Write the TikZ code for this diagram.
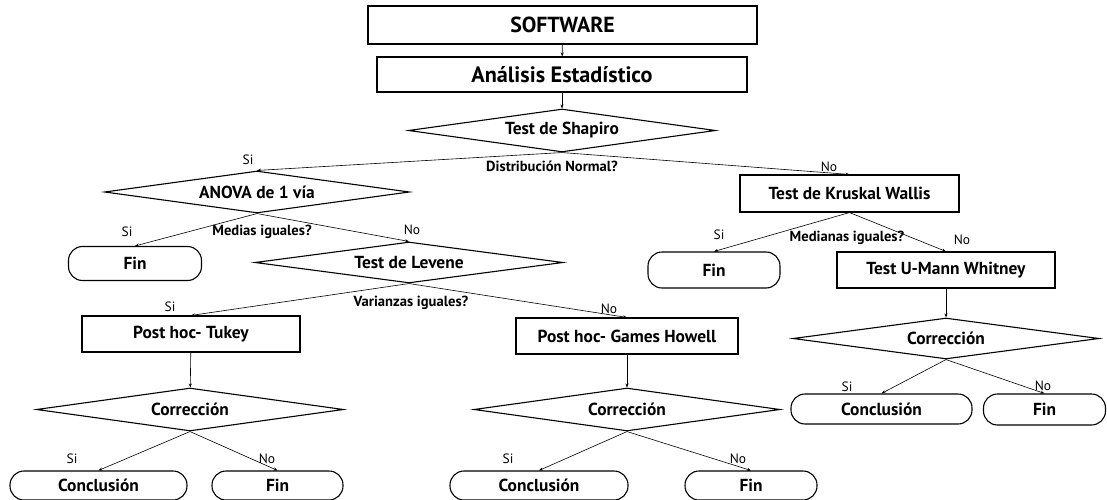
\documentclass[tikz,border=0pt]{standalone}
\usepackage{fontspec}
\setmainfont{PT Sans}
\usetikzlibrary{shapes.geometric,arrows.meta}
\tikzset{
  procbox/.style={draw=black, line width=1.1pt, rectangle, inner sep=0pt, font=\bfseries\fontsize{17.4}{19}\selectfont},
  decbox/.style={draw=black, line width=1.1pt, diamond, shape aspect=7, inner sep=0pt, font=\bfseries\fontsize{17.4}{19}\selectfont},
  termbox/.style={draw=black, line width=1.1pt, rectangle, rounded corners=14pt, inner sep=0pt, font=\bfseries\fontsize{17.4}{19}\selectfont},
  conn/.style={draw=black, line width=0.6pt, -{Stealth[length=4pt,width=3pt]}},
  qlabel/.style={inner sep=0pt, font=\bfseries\fontsize{14.6}{16}\selectfont},
  yn/.style={inner sep=0pt, font=\fontsize{13.5}{15}\selectfont}
}
\begin{document}
\begin{tikzpicture}[x=1pt,y=-1pt]
\useasboundingbox (0,0) rectangle (1107,500);
% nodes
\node[procbox, minimum width=389pt, minimum height=38pt, font=\bfseries\fontsize{21.8}{23}\selectfont] (sw) at (562.5,25) {SOFTWARE};
\node[procbox, minimum width=370pt, minimum height=35pt, font=\bfseries\fontsize{22.2}{24}\selectfont] (ae) at (562,74.5) {Análisis Estadístico};
\node[decbox, minimum width=307pt, minimum height=43pt] (sh) at (562,130.5) {Test de Shapiro};
\node[decbox, minimum width=305pt, minimum height=42pt] (an) at (257,192) {ANOVA de 1 vía};
\node[procbox, minimum width=219pt, minimum height=37pt] (kw) at (849.5,193.5) {Test de Kruskal Wallis};
\node[termbox, minimum width=133pt, minimum height=34pt] (fin1) at (135,263.5) {Fin};
\node[decbox, minimum width=308pt, minimum height=41pt] (lv) at (409,262.5) {Test de Levene};
\node[termbox, minimum width=132pt, minimum height=36pt] (fin4) at (714,270) {Fin};
\node[procbox, minimum width=218pt, minimum height=36pt] (um) at (946,270) {Test U-Mann Whitney};
\node[procbox, minimum width=218pt, minimum height=36pt] (tk) at (191,334) {Post hoc- Tukey};
\node[procbox, minimum width=222pt, minimum height=36pt] (gh) at (627,336) {Post hoc- Games Howell};
\node[decbox, minimum width=307pt, minimum height=43pt] (c1) at (190,409.5) {Corrección};
\node[decbox, minimum width=306pt, minimum height=43pt] (c2) at (627,409.5) {Corrección};
\node[decbox, minimum width=306pt, minimum height=41pt] (c3) at (946,338.5) {Corrección};
\node[termbox, minimum width=177pt, minimum height=29pt] (con1) at (98.5,485.5) {Conclusión};
\node[termbox, minimum width=131pt, minimum height=29pt] (fin2) at (277.5,485.5) {Fin};
\node[termbox, minimum width=178pt, minimum height=29pt] (con2) at (539,485.5) {Conclusión};
\node[termbox, minimum width=132pt, minimum height=29pt] (fin3) at (751,485.5) {Fin};
\node[termbox, minimum width=181pt, minimum height=30pt] (con3) at (881.5,409) {Conclusión};
\node[termbox, minimum width=122pt, minimum height=31pt] (fin5) at (1044.5,409.5) {Fin};
% connectors
\draw[conn] (sw) -- (ae);
\draw[conn] (ae) -- (sh);
\draw[conn] (sh.south) -- (an.north);
\draw[conn] (sh.south) -- (kw.north);
\draw[conn] (an.south) -- (fin1.north);
\draw[conn] (an.south) -- (lv.north);
\draw[conn] (kw.south) -- (fin4.north);
\draw[conn] (kw.south) -- (um.north);
\draw[conn] (lv.south) -- (tk.north);
\draw[conn] (lv.south) -- (gh.north);
\draw[conn] (tk) -- (c1);
\draw[conn] (gh) -- (c2);
\draw[conn] (um) -- (c3);
\draw[conn] (c1.south) -- (con1.north);
\draw[conn] (c1.south) -- (fin2.north);
\draw[conn] (c2.south) -- (con2.north);
\draw[conn] (c2.south) -- (fin3.north);
\draw[conn] (c3.south) -- (con3.north);
\draw[conn] (c3.south) -- (fin5.north);
% labels
\node[yn] (l1) at (248,160) {Si};
\node[yn] (l2) at (829,167) {No};
\node[qlabel] (q1) at (552,166) {Distribución Normal?};
\node[yn] (l3) at (127,232) {Si};
\node[qlabel] (q2) at (262,232) {Medias iguales?};
\node[yn] (l4) at (412,230) {No};
\node[yn] (l5) at (719,235) {Si};
\node[qlabel] (q3) at (847,238) {Medianas iguales?};
\node[yn] (l6) at (962,240) {No};
\node[yn] (l7) at (170,307) {Si};
\node[qlabel] (q4) at (411,303) {Varianzas iguales?};
\node[yn] (l8) at (609,309) {No};
\node[yn] (l9) at (72,459) {Si};
\node[yn] (l10) at (267,459) {No};
\node[yn] (l11) at (508,459) {Si};
\node[yn] (l12) at (738,459) {No};
\node[yn] (l13) at (847,387) {Si};
\node[yn] (l14) at (1043,386) {No};
\end{tikzpicture}
\end{document}
